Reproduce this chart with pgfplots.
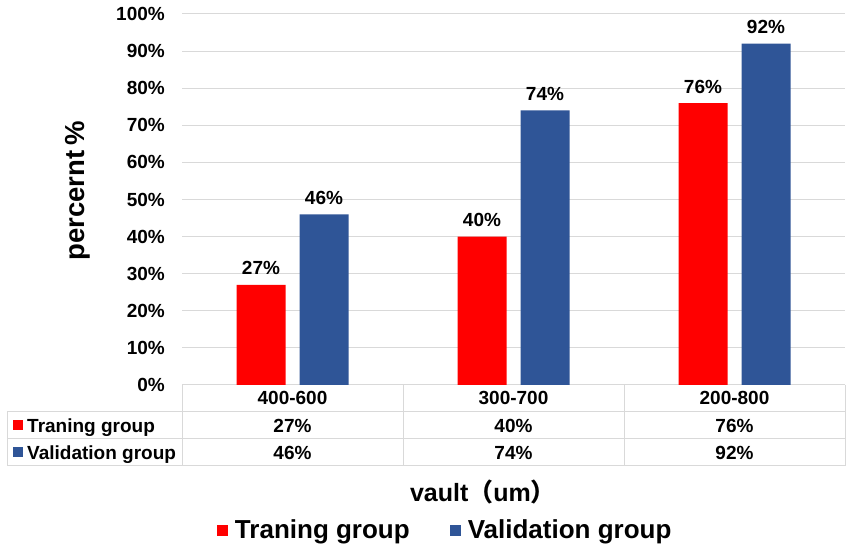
\documentclass[border=0pt]{standalone}
\usepackage{pgfplots}
\pgfplotsset{compat=1.18}
\usepackage{fontspec}
\setmainfont{Liberation Sans}
\newfontfamily\cjk{Noto Sans CJK SC}
\definecolor{cred}{RGB}{255,0,0}
\definecolor{cblue}{RGB}{47,85,151}
\definecolor{cgrid}{RGB}{217,217,217}
\newcommand{\tf}{\fontsize{19}{19}\selectfont\bfseries}
\begin{document}
\begin{tikzpicture}[x=1pt,y=1pt]
\useasboundingbox (0,0) rectangle (851,554);
\begin{axis}[
  at={(182pt,169pt)}, anchor=south west,
  width=663pt, height=371pt, scale only axis,
  xmin=-0.5, xmax=2.5, ymin=0, ymax=100,
  ybar=14pt, bar width=49pt,
  axis line style={draw=none},
  major tick length=0pt,
  /pgf/number format/assume math mode=true,
  ytick={0,10,...,100},
  yticklabels={0\%,10\%,20\%,30\%,40\%,50\%,60\%,70\%,80\%,90\%,100\%},
  yticklabel style={font=\tf, inner sep=0pt, xshift=-17pt},
  ymajorgrids, grid style={cgrid, line width=1pt},
  xtick=\empty,
  clip=false,
  nodes near coords={\pgfmathprintnumber{\pgfplotspointmeta}\%},
  every node near coord/.append style={font=\tf, anchor=base, yshift=10pt, text=black},
  xlabel={vault{\cjk（}um{\cjk）}},
  xlabel style={at={(rel axis cs:0.454,-0.315)}, anchor=base, font=\fontsize{25}{25}\selectfont\bfseries},
  ylabel={percernt\,\%},
  ylabel style={at={(rel axis cs:-0.157,0.523)}, anchor=center, rotate=0, font=\fontsize{27.5}{27.5}\selectfont\bfseries},
  legend columns=2,
  legend style={draw=none, fill=none, at={(0.397,-0.391)}, anchor=center,
    font=\fontsize{26}{26}\selectfont\bfseries,
    /tikz/every even column/.append style={column sep=38pt}},
  legend image code/.code={\fill[#1] (0pt,-5.5pt) rectangle (11pt,5.5pt); \path (16pt,0pt);},
]
\addplot[fill=cred, draw=none] coordinates {(0,27) (1,40) (2,76)};
\addplot[fill=cblue, draw=none] coordinates {(0,46) (1,74) (2,92)};
\legend{Traning group, Validation group}
\end{axis}
% data table grid
\draw[cgrid, line width=1pt] (7,142) -- (845,142);
\draw[cgrid, line width=1pt] (7,115) -- (845,115);
\draw[cgrid, line width=1pt] (7,88) -- (845,88);
\draw[cgrid, line width=1pt] (7,142) -- (7,88);
\draw[cgrid, line width=1pt] (182,169) -- (182,88);
\draw[cgrid, line width=1pt] (403,169) -- (403,88);
\draw[cgrid, line width=1pt] (624,169) -- (624,88);
\draw[cgrid, line width=1pt] (845,169) -- (845,88);
% table text
\foreach \x/\c/\a/\b in {292.5/400-600/27/46, 513.5/300-700/40/74, 734.5/200-800/76/92}{
  \node[font=\tf, anchor=base, inner sep=0pt] at (\x,149) {\c};
  \node[font=\tf, anchor=base, inner sep=0pt] at (\x,121) {\a\%};
  \node[font=\tf, anchor=base, inner sep=0pt] at (\x,94) {\b\%};
}
\fill[cred] (13,123.5) rectangle (23,133.5);
\fill[cblue] (13,96.5) rectangle (23,106.5);
\node[font=\tf, anchor=base west, inner sep=0pt] at (27,121) {Traning group};
\node[font=\tf, anchor=base west, inner sep=0pt] at (27,94) {Validation group};
\end{tikzpicture}
\end{document}
